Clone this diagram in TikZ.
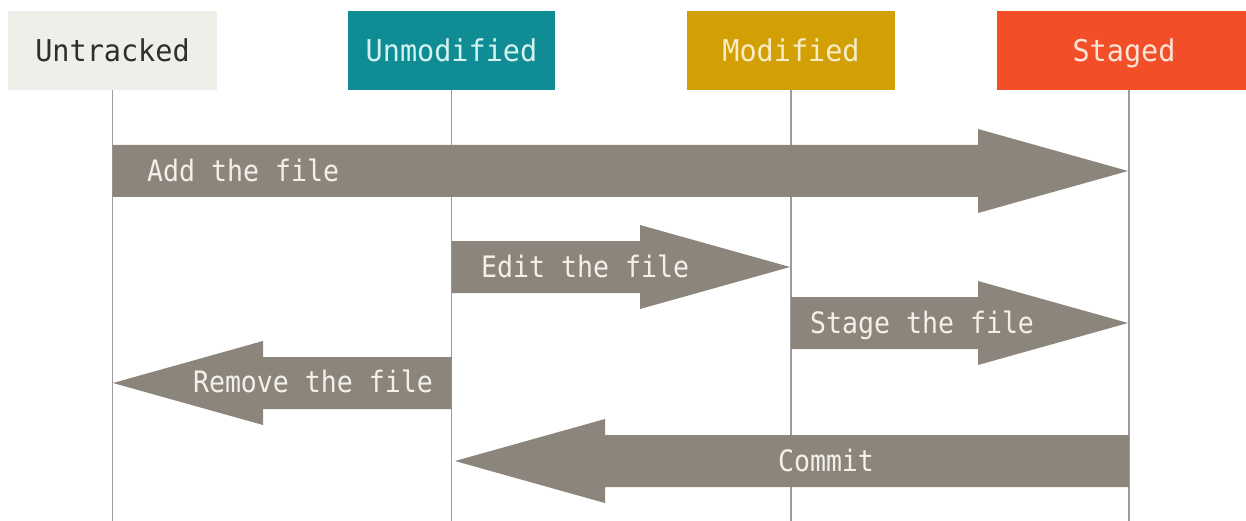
\documentclass[tikz,border=0pt]{standalone}
\usepackage{fontspec}
\newfontfamily\headfont[FakeStretch=0.95]{DejaVu Sans Mono}
\newfontfamily\flowfont[FakeStretch=0.9]{DejaVu Sans Mono}
\usetikzlibrary{calc}

\definecolor{flowgray}{HTML}{8C857B}
\definecolor{lifegray}{HTML}{9C9C9C}
\definecolor{untrackedbg}{HTML}{F0EEE8}
\definecolor{untrackedfg}{HTML}{2E2E2E}
\definecolor{unmodifiedbg}{HTML}{0F8C94}
\definecolor{unmodifiedfg}{HTML}{D4F2EF}
\definecolor{modifiedbg}{HTML}{D2A004}
\definecolor{modifiedfg}{HTML}{F7ECC6}
\definecolor{stagedbg}{HTML}{F24F29}
\definecolor{stagedfg}{HTML}{FCE4D8}
\definecolor{labelfg}{HTML}{F3F0EA}

% fat arrow from the start point #1 to the tip #2 (both at the same height)
\newcommand{\fatarrow}[2]{%
  \fill[flowgray] let \p1=(#1), \p2=(#2),
    \n1={(\x2>\x1) ? 150 : -150} in
    (\x1,\y1+26pt) -- (\x2-\n1,\y1+26pt) -- (\x2-\n1,\y1+42pt)
    -- (\x2,\y2) -- (\x2-\n1,\y1-42pt) -- (\x2-\n1,\y1-26pt)
    -- (\x1,\y1-26pt) -- cycle;}

\begin{document}
\begin{tikzpicture}[x=1pt,y=-1pt,
  state/.style={inner sep=0pt, minimum height=79pt,
    text height=22pt, text depth=0pt,
    font=\headfont\fontsize{30}{34}\selectfont},
  lifeline/.style={draw=lifegray, line width=1.8pt},
  flowlabel/.style={inner sep=0pt, text=labelfg,
    text height=21.5pt, text depth=0pt,
    font=\flowfont\fontsize{29.5}{33}\selectfont}]

\clip (0,0) rectangle (1246,521);
\fill[white] (0,0) rectangle (1246,521);

% state headers
\node[state, fill=untrackedbg, text=untrackedfg, minimum width=209pt]
  (untracked) at (112.5,50.5) {Untracked};
\node[state, fill=unmodifiedbg, text=unmodifiedfg, minimum width=207pt]
  (unmodified) at (451.5,50.5) {Unmodified};
\node[state, fill=modifiedbg, text=modifiedfg, minimum width=208pt]
  (modified) at (791,50.5) {Modified};
\node[state, fill=stagedbg, text=stagedfg, minimum width=264pt]
  (staged) at (1129,50.5) {};
\node[state, text=stagedfg] (stagedtext) at (1124,50.5) {Staged};

% lifelines
\coordinate (untrackedend) at (112.5,521);
\coordinate (unmodifiedend) at (451.5,521);
\coordinate (modifiedend) at (791,521);
\coordinate (stagedend) at (1129,521);
\draw[lifeline] (untracked.south) -- (untrackedend);
\draw[lifeline] (unmodified.south) -- (unmodifiedend);
\draw[lifeline] (modified.south) -- (modifiedend);
\draw[lifeline] (staged.south) -- (stagedend);

% transitions
\coordinate (addfrom) at (112.5,171);
\coordinate (addto) at (1128,171);
\coordinate (editfrom) at (451.5,267);
\coordinate (editto) at (790,267);
\coordinate (stagefrom) at (791,323);
\coordinate (stageto) at (1128,323);
\coordinate (removefrom) at (451.5,383);
\coordinate (removeto) at (113,383);
\coordinate (commitfrom) at (1129,461);
\coordinate (committo) at (455,461);

\fatarrow{addfrom}{addto}
\fatarrow{editfrom}{editto}
\fatarrow{stagefrom}{stageto}
\fatarrow{removefrom}{removeto}
\fatarrow{commitfrom}{committo}

\node[flowlabel, anchor=west] (addlabel) at (147,171) {Add the file};
\node[flowlabel, anchor=west] (editlabel) at (481,267) {Edit the file};
\node[flowlabel, anchor=west] (stagelabel) at (810,323) {Stage the file};
\node[flowlabel, anchor=east] (removelabel) at (433,382) {Remove the file};
\node[flowlabel] (commitlabel) at (826,461) {Commit};

\end{tikzpicture}
\end{document}
